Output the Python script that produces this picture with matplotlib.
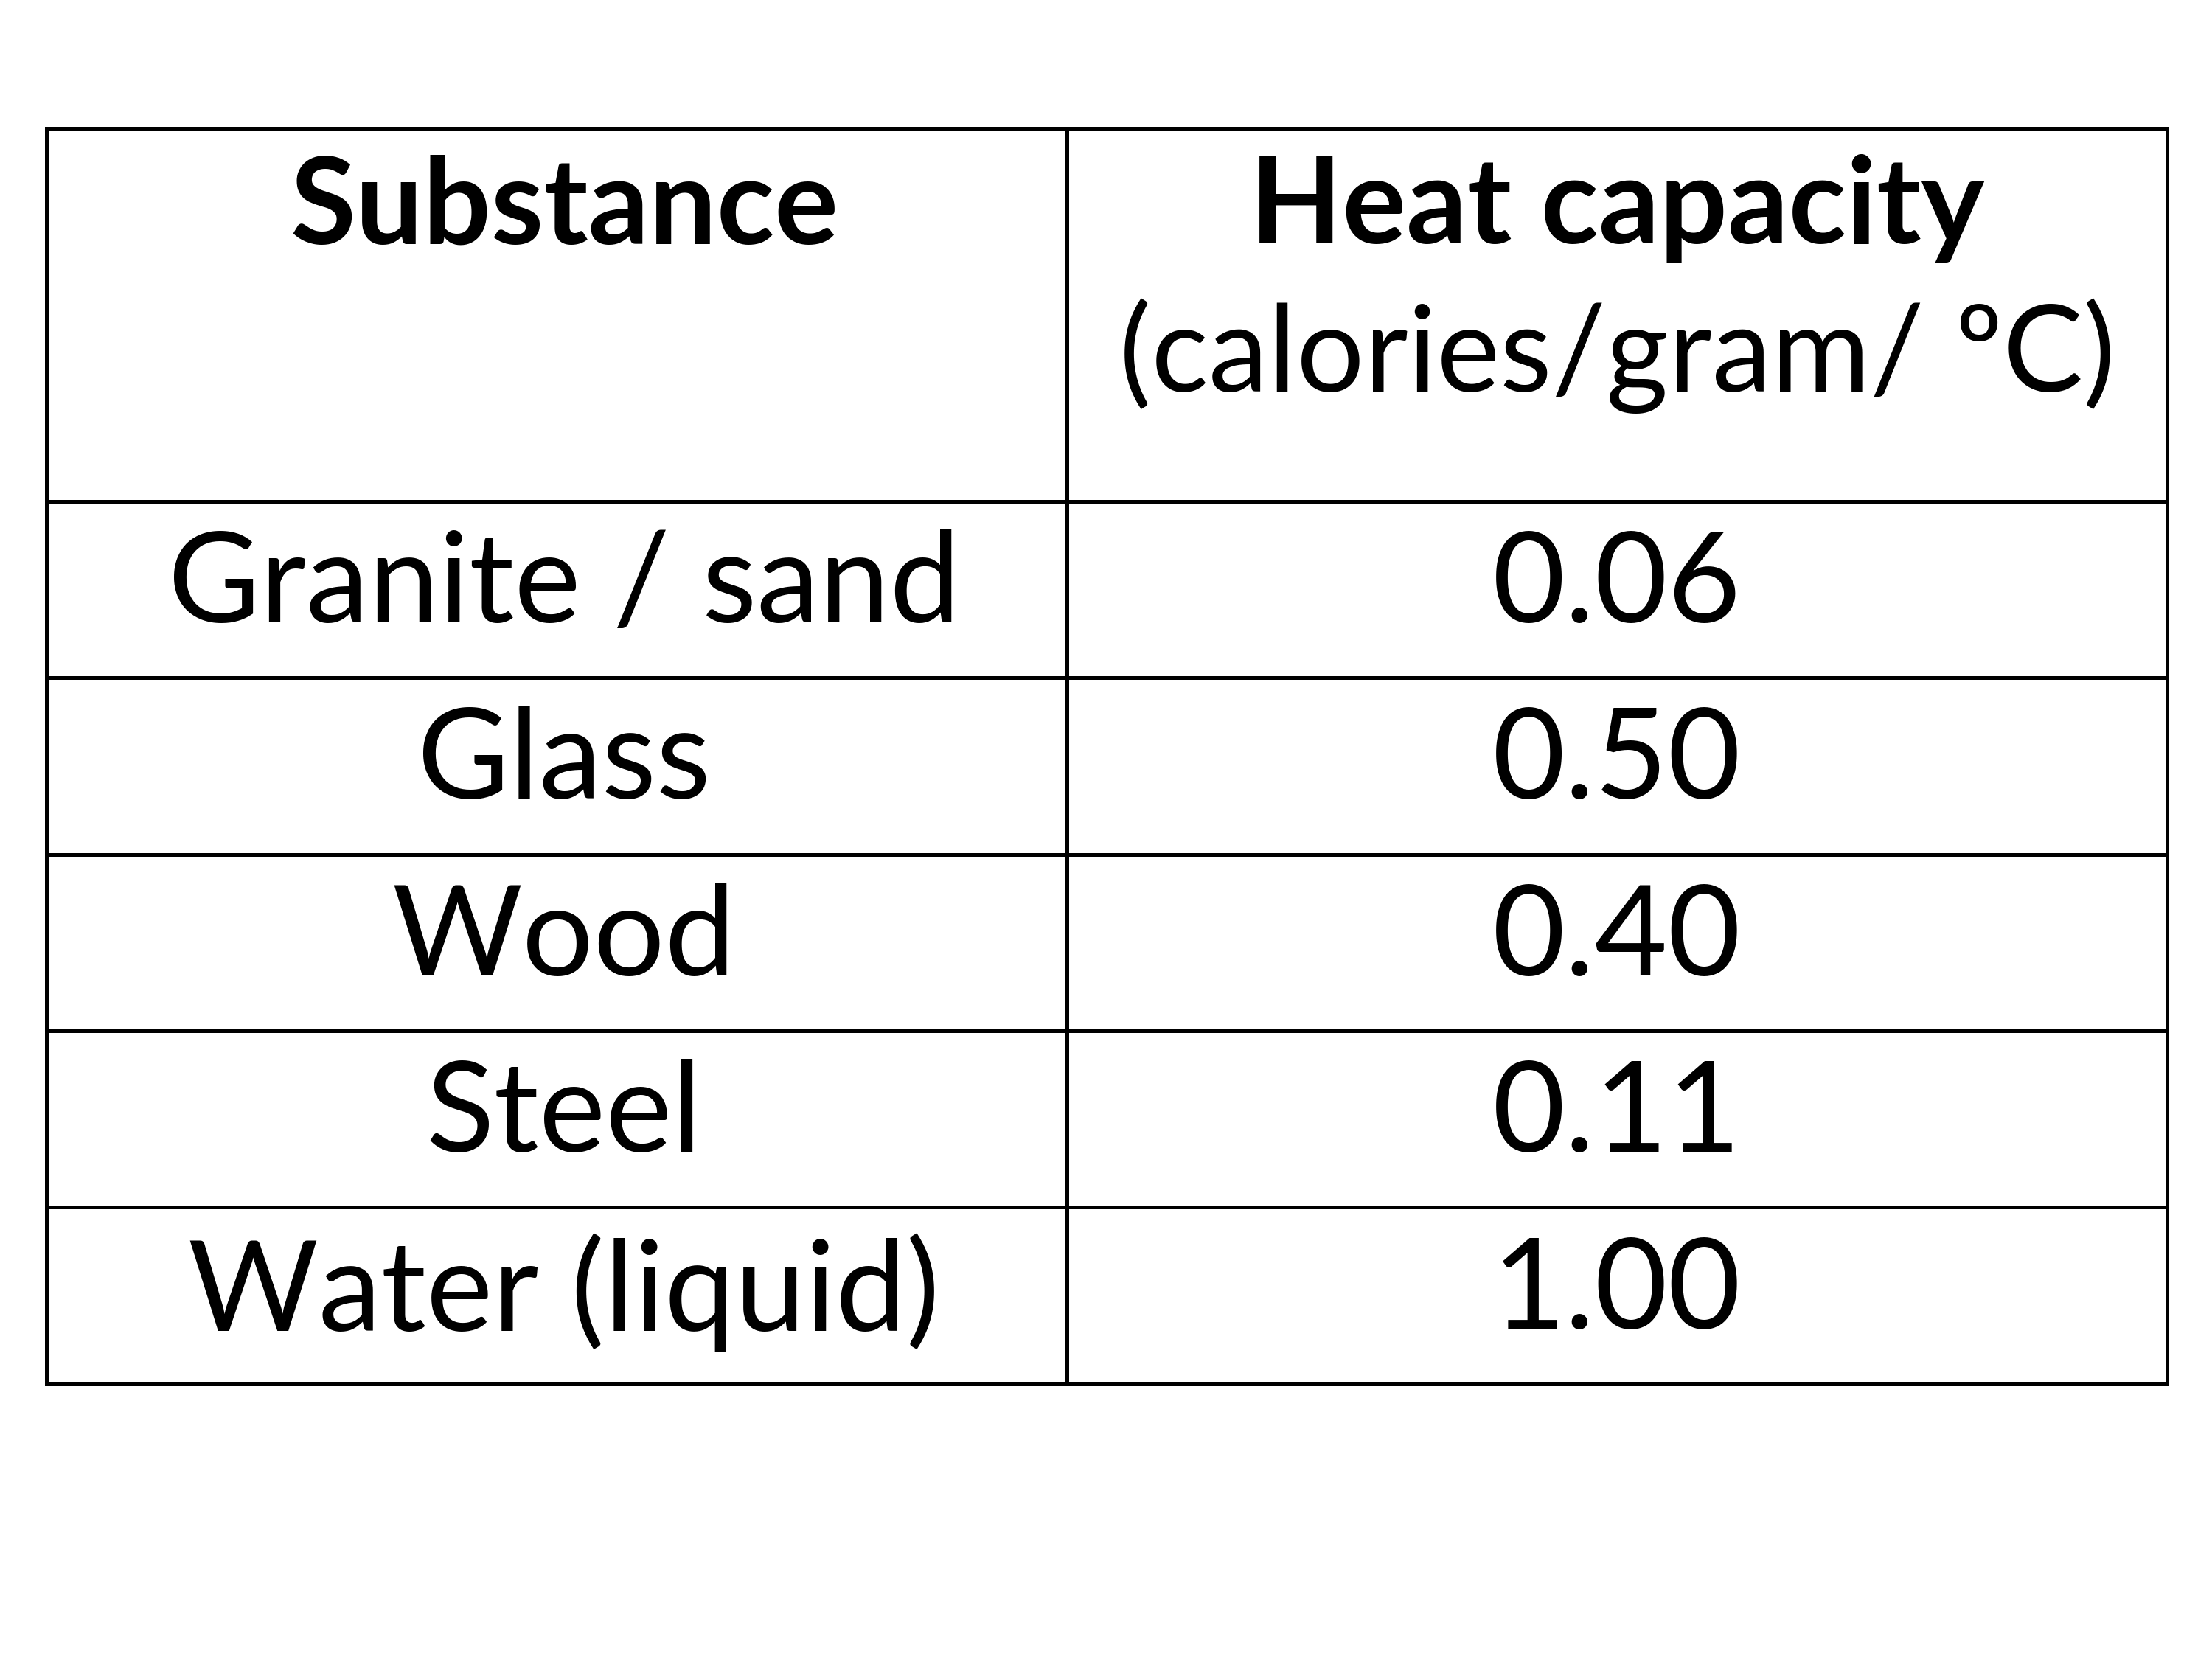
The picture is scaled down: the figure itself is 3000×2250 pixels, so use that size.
import matplotlib
matplotlib.use("Agg")
import matplotlib.pyplot as plt

substances = ["Granite / sand", "Glass", "Wood", "Steel", "Water (liquid)"]
heat_capacity = [0.06, 0.50, 0.40, 0.11, 1.00]
header_left = "Substance"
header_right = "Heat capacity"
header_unit = "(calories/gram/ \u00baC)"

W, H = 1567, 1175
fig = plt.figure(figsize=(10, 7.5), dpi=300)
ax = fig.add_axes([0, 0, 1, 1])
ax.set_xlim(0, W); ax.set_ylim(H, 0); ax.axis("off")

left, mid, right = 33, 756, 1535
top, head_bot, row_h = 91, 355, 125
bottom = head_bot + row_h * len(substances)
lw = 1.2
font = "Lato"
# grid lines
for y in [top, head_bot] + [head_bot + row_h * (i + 1) for i in range(len(substances))]:
    ax.plot([left, right], [y, y], color="black", lw=lw)
for x in [left, mid, right]:
    ax.plot([x, x], [top, bottom], color="black", lw=lw)

cl, cr = (left + mid) / 2, (mid + right) / 2
ax.text(cl + 5, 148, header_left, ha="center", va="center", fontsize=39, fontweight="bold", family=font)
ax.text(cr, 148, header_right, ha="center", va="center", fontsize=39, fontweight="bold", family=font)
ax.text(cr, 252, header_unit, ha="center", va="center", fontsize=39, family=font)
for i, (s, v) in enumerate(zip(substances, heat_capacity)):
    yc = head_bot + row_h * i + row_h / 2 - 2
    ax.text(cl + 5, yc, s, ha="center", va="center", fontsize=41, family=font)
    ax.text(cr, yc, f"{v:.2f}", ha="center", va="center", fontsize=41, family=font)

fig.savefig("out.png", dpi=300, facecolor="white")
